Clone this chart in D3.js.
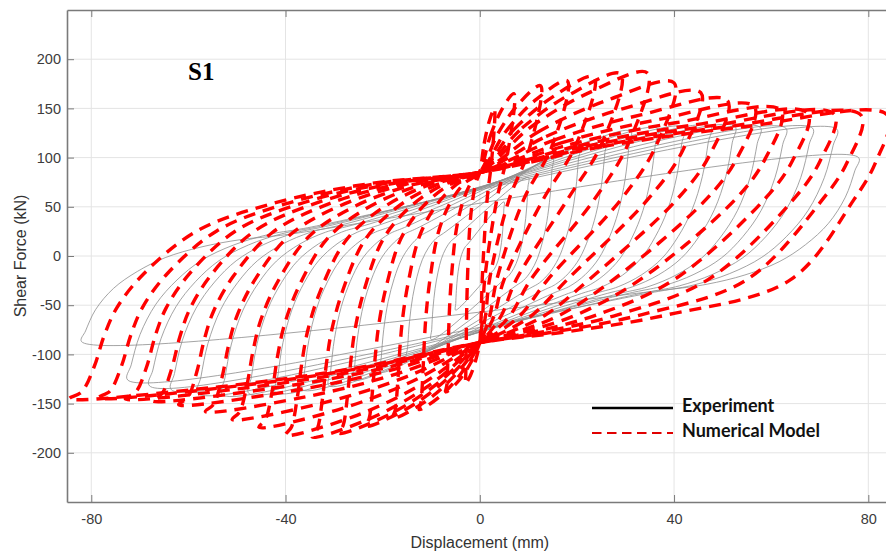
<!DOCTYPE html>
<html><head><meta charset="utf-8">
<script src="https://cdn.jsdelivr.net/npm/d3@7"></script>
<style>body{margin:0;background:#fff}svg{display:block}</style>
</head><body>
<svg id="chart" width="886" height="551"></svg>
<script>
// ---------- axes ----------
const xTicks = [-80, -40, 0, 40, 80];
const yTicks = [-200, -150, -100, -50, 0, 50, 100, 150, 200];
const xDomain = [-85, 85];
const yDomain = [-250, 250];

// ---------- Numerical model (red dashed) : one loop per cycle ----------
const modelPosDisp  = [3, 7, 12.5, 18, 23.5, 29, 34.5, 40, 45.5, 51, 56.5, 62, 67.5, 73, 78.5, 84];
const modelPosForce = [150, 165, 173, 178, 182, 185, 186, 176, 166, 158, 152, 148, 145, 144, 143, 143];
const modelNegDisp  = [-3, -7, -12.5, -18, -23.5, -29, -34.5, -40, -45.5, -51, -56.5, -62, -67.5, -73, -78.5, -84.5];
const modelNegForce = [-130, -138, -156, -165, -173, -180, -184, -182, -174, -166, -158, -151, -147, -145, -144, -145];
// displacement where each unloading branch crosses +57 kN and -24 kN
const modelFanDispAt57  = [1.5, 3.5, 6, 9, 13, 18, 23.5, 29, 34.5, 40.5, 46.5, 52.5, 58.5, 64.5, 70.5, 77];
const modelFanDispAtM24 = [0.5, 1, 2, 3.5, 5, 7.5, 10.5, 14, 18, 22.5, 27.5, 33, 40, 47, 55, 64];
const modelCenterUpper = 85;   // force where reloading branches start (d ~ 0)
const modelCenterLower = -88;
// branch shapes: [fraction of displacement, fraction of force change]
const modelBranchShape  = [[0,0],[0.3,0.45],[0.65,0.8],[1,1]];
const modelLeftFanShape = [[0,0],[0.03,0.03],[0.06,0.14],[0.085,0.28],[0.115,0.4],[0.18,0.55],[0.31,0.74],[0.49,0.86],[0.73,0.95],[1,1]];

// ---------- Experiment (grey solid) ----------
const expPosDisp  = [5, 10, 15, 20.5, 26, 31, 36.5, 42, 47.5, 52.5, 57.7, 63, 68.5, 73.5, 78];
const expPosForce = [55, 80, 100, 112, 120, 127, 130, 131, 132, 132, 131, 130, 130, 129, 100];
const expNegDisp  = [-5, -10, -15, -20.5, -26, -31, -36.5, -42, -47.5, -53, -58, -63.5, -68, -72.5, -82];
const expNegForce = [-55, -85, -105, -118, -126, -132, -136, -139, -140, -141, -140, -136, -132, -126, -87];
const expUpperJoin = [12, 19, 23, 26, 28, 29, 30, 31, 31, 31, 31, 30, 29, 28, 21];
const expLowerJoin = [-16, -24, -30, -33, -35, -37, -38, -38, -38, -38, -38, -37, -37, -36, -34];
const expFanShape = [[0,0],[0.01,0.1],[0.035,0.3],[0.08,0.5],[0.14,0.66],[0.21,0.79],[0.3,0.89],[0.4,0.96],[0.5,1]];

const legendLabels = ["Experiment", "Numerical Model"];
const panelLabel = "S1";

// ---------- scales ----------
const x = d3.scaleLinear().domain(xDomain).range([67, 892.6]);
const y = d3.scaleLinear().domain(yDomain).range([502, 10]);
const svg = d3.select("#chart");

// grid
svg.append("g").selectAll("line").data(xTicks).join("line")
  .attr("x1", d => x(d)).attr("x2", d => x(d)).attr("y1", y(250)).attr("y2", y(-250))
  .attr("stroke", "#e4e4e4").attr("stroke-width", 1);
svg.append("g").selectAll("line").data(yTicks).join("line")
  .attr("y1", d => y(d)).attr("y2", d => y(d)).attr("x1", x(-85)).attr("x2", x(85))
  .attr("stroke", "#e4e4e4").attr("stroke-width", 1);

svg.append("defs").append("clipPath").attr("id", "clip")
  .append("rect").attr("x", x(-85)).attr("y", y(250)).attr("width", x(85) - x(-85)).attr("height", y(-250) - y(250));

const line = d3.line().x(d => x(d[0])).y(d => y(d[1])).curve(d3.curveCatmullRomClosed.alpha(0.5));

function expLoop(i) {
  const Dp = expPosDisp[i], P = expPosForce[i], Dn = expNegDisp[i], N = expNegForce[i];
  const Ju = expUpperJoin[i], Jl = expLowerJoin[i];
  const pts = [];
  expFanShape.forEach(([a, b]) => pts.push([Dp * (1 - a), P - b * (P - Jl)]));
  expFanShape.forEach(([a, b]) => pts.push([Dn * (1 - a), N + b * (Ju - N)]));
  return pts;
}
function modelLoop(i) {
  const Dp = modelPosDisp[i], P = modelPosForce[i], Dn = modelNegDisp[i], N = modelNegForce[i];
  const Fa = modelCenterUpper, Fb = modelCenterLower;
  const d57 = modelFanDispAt57[i], dm24 = modelFanDispAtM24[i];
  const pts = [];
  // reloading branch to the positive peak
  modelBranchShape.forEach(([a, b]) => pts.push([a * Dp, Fa + b * (P - Fa)]));
  // unloading branch from the positive peak down to the centre
  pts.push([Dp - 0.35 * (Dp - d57), P - 0.55 * (P - 57)]);
  pts.push([d57, 57]);
  pts.push([dm24, -24]);
  pts.push([dm24 * 0.6, -60]);
  pts.push([dm24 * 0.28, -77]);
  pts.push([0, Fb]);
  // reloading branch to the negative peak
  modelBranchShape.slice(1).forEach(([a, b]) => pts.push([a * Dn, Fb + b * (N - Fb)]));
  // unloading branch from the negative peak back up to the centre
  modelLeftFanShape.slice(1, -1).forEach(([a, b]) => pts.push([Dn * (1 - a), N + b * (Fa - N)]));
  return pts;
}

const plot = svg.append("g").attr("clip-path", "url(#clip)");
plot.append("g").selectAll("path").data(d3.range(expPosDisp.length).map(expLoop)).join("path")
  .attr("d", line).attr("fill", "none").attr("stroke", "#8e8e8e").attr("stroke-width", 0.9).attr("opacity", 0.9);
plot.append("g").selectAll("path").data(d3.range(modelPosDisp.length).map(modelLoop)).join("path")
  .attr("d", line).attr("fill", "none").attr("stroke", "#ff0000").attr("stroke-width", 3.4)
  .attr("stroke-dasharray", "12,8");

// axes
const axisColor = "#7a7a7a";
const fmt = d => String(d);
function styleAxis(g) {
  g.select(".domain").attr("stroke", axisColor).attr("stroke-width", 1.6);
  g.selectAll(".tick line").attr("stroke", axisColor);
  g.selectAll(".tick text").attr("fill", "#3c3c3c").attr("font-family", "'Liberation Sans', Arial, sans-serif").attr("font-size", 14.5);
}
svg.append("g").attr("transform", `translate(0,${y(-250)})`)
  .call(d3.axisBottom(x).tickValues(xTicks).tickFormat(fmt).tickSizeInner(-7).tickSizeOuter(0).tickPadding(12))
  .call(styleAxis);
svg.append("g").attr("transform", `translate(${x(-85)},0)`)
  .call(d3.axisLeft(y).tickValues(yTicks).tickFormat(fmt).tickSizeInner(-7).tickSizeOuter(0).tickPadding(6))
  .call(styleAxis);
svg.append("g").attr("transform", `translate(0,${y(250)})`)
  .call(d3.axisTop(x).tickValues(xTicks).tickSizeInner(-7).tickSizeOuter(0).tickFormat(""))
  .call(styleAxis);

// axis titles
svg.append("text").attr("x", x(0)).attr("y", 548).attr("text-anchor", "middle")
  .attr("font-family", "'Liberation Sans', Arial, sans-serif").attr("font-size", 16).attr("fill", "#333")
  .text("Displacement (mm)");
svg.append("text").attr("transform", `translate(26,${y(0)}) rotate(-90)`).attr("text-anchor", "middle")
  .attr("font-family", "'Liberation Sans', Arial, sans-serif").attr("font-size", 16).attr("fill", "#333")
  .text("Shear Force (kN)");

// panel label
svg.append("text").attr("x", 188).attr("y", 80)
  .attr("font-family", "'Liberation Serif', 'Times New Roman', serif").attr("font-weight", "bold")
  .attr("font-size", 25).attr("fill", "#000").text(panelLabel);

// legend
const lg = svg.append("g");
lg.append("line").attr("x1", 592).attr("x2", 673).attr("y1", 408).attr("y2", 408)
  .attr("stroke", "#000").attr("stroke-width", 2.5);
lg.append("line").attr("x1", 592).attr("x2", 673).attr("y1", 433).attr("y2", 433)
  .attr("stroke", "#e00000").attr("stroke-width", 2).attr("stroke-dasharray", "9.5,5.5");
lg.selectAll("text").data(legendLabels).join("text")
  .attr("x", 682).attr("y", (d, i) => 412 + i * 25)
  .attr("font-family", "Lato, 'Open Sans', sans-serif").attr("font-weight", "bold")
  .attr("font-size", 18).attr("fill", "#111").text(d => d);
</script>
</body></html>
